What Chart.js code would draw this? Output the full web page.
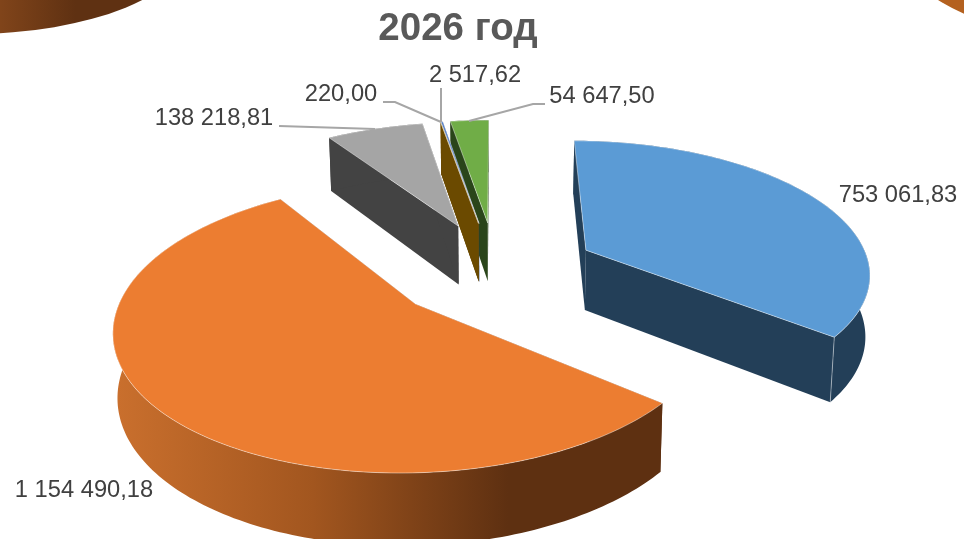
<!DOCTYPE html>
<html>
<head>
<meta charset="utf-8">
<script src="https://cdn.jsdelivr.net/npm/chart.js@4"></script>
<style>
  html, body { margin: 0; background: #fff; overflow: hidden; }
  #wrap { position: relative; width: 964px; height: 539px; overflow: hidden; }
  #pie { position: absolute; left: 0; top: 0; }
  /* edges of the neighbouring charts cut off by the screenshot */
  .nb { position: absolute; border-radius: 50%; }
  #nbLeft { left: -250px; top: -146px; width: 440px; height: 180px;
    background: linear-gradient(90deg, #80441a 57%, #5f3112 74%); }
  #nbRight { left: 900px; top: -153px; width: 500px; height: 200px; background: #b4611f; }
</style>
</head>
<body>
<div id="wrap">
  <div class="nb" id="nbLeft"></div>
  <div class="nb" id="nbRight"></div>
  <canvas id="pie" width="964" height="539"></canvas>
</div>
<script>
const values = [753061.83, 1154490.18, 138218.81, 220.00, 2517.62, 54647.50];
const explode = [408, 420, 432, 432, 432, 432];
const topColors = ['#5b9bd5', '#ec7d31', '#a5a5a5', '#ffc000', '#4472c4', '#70ad47'];
const wallColors = ['#233f58', '#5e3011', '#434343', '#6b4a00', '#264478', '#2a451a'];
const titleText = '2026 год';

// label text centres and leader lines, screen pixels
const labelPos = [[898, 195], [84, 490], [214, 118], [341, 94], [475, 75], [602, 96]];
const leaders = [null, null,
  [[279, 126], [375, 129]],
  [[383, 102], [395, 102], [441, 122]],
  [[441, 88], [441, 122]],
  [[545, 104], [533, 104], [469, 121]]];

// projection of the pie plane
const view = { cx: 496, cy: 270, squash: 0.462, persp: 0.000536, depth: 61, shrink: 0.012 };

function fmt(v) {
  const parts = v.toFixed(2).split('.');
  return parts[0].replace(/\B(?=(\d{3})+$)/g, '\u00a0') + ',' + parts[1];
}

function project(X, Y, z) {
  const w = 1 - view.persp * Y;
  const k = 1 - view.shrink * z;
  return [view.cx + X / w * k, view.cy + view.squash * Y / w * k + z * view.depth / w];
}

function trace(ctx, pts) {
  ctx.beginPath();
  pts.forEach((p, i) => i ? ctx.lineTo(p[0], p[1]) : ctx.moveTo(p[0], p[1]));
  ctx.closePath();
}

function drawSlice(ctx, arc, i) {
  const a0 = arc.startAngle, a1 = arc.endAngle, R = arc.outerRadius;
  const mid = (a0 + a1) / 2, off = arc.options.offset / 4;
  const ox = Math.cos(mid) * off, oy = Math.sin(mid) * off;
  const rim = [];
  const n = Math.max(2, Math.ceil((a1 - a0) / 0.02));
  for (let j = 0; j <= n; j++) {
    const a = a0 + (a1 - a0) * j / n;
    rim.push([ox + R * Math.cos(a), oy + R * Math.sin(a)]);
  }
  const at = (p, z) => project(p[0], p[1], z);
  const apex = [ox, oy];

  // cut walls
  ctx.fillStyle = wallColors[i];
  [rim[0], rim[n]].forEach(p => {
    trace(ctx, [at(apex, 0), at(p, 0), at(p, 1), at(apex, 1)]);
    ctx.fill();
  });
  // outer wall
  let wall = wallColors[i];
  if (i === 1) {
    wall = ctx.createLinearGradient(118, 0, 660, 0);
    wall.addColorStop(0, '#c96f2d');
    wall.addColorStop(0.36, '#a2561f');
    wall.addColorStop(0.72, '#5e3011');
    wall.addColorStop(1, '#5e3011');
  }
  ctx.fillStyle = wall;
  trace(ctx, rim.map(p => at(p, 0)).concat(rim.slice().reverse().map(p => at(p, 1))));
  ctx.fill();
  // top face
  trace(ctx, [at(apex, 0)].concat(rim.map(p => at(p, 0))));
  ctx.fillStyle = topColors[i];
  ctx.fill();
  ctx.strokeStyle = 'rgba(255,255,255,0.55)';
  ctx.lineWidth = 0.8;
  ctx.stroke();
  // light edge down the near corner of the blue slice
  if (i === 0) {
    const c = at(rim[n], 0), d = at(rim[n], 1);
    ctx.beginPath();
    ctx.moveTo(c[0], c[1]);
    ctx.lineTo(d[0], d[1]);
    ctx.stroke();
  }
}

const pie3d = {
  id: 'pie3d',
  beforeDatasetsDraw(chart) {
    const ctx = chart.ctx;
    const arcs = chart.getDatasetMeta(0).data;
    ctx.save();
    for (let i = arcs.length - 1; i >= 0; i--) drawSlice(ctx, arcs[i], i);
    ctx.restore();
    return false;
  },
  afterDraw(chart) {
    const ctx = chart.ctx;
    ctx.save();
    ctx.strokeStyle = '#a6a6a6';
    ctx.lineWidth = 2;
    leaders.forEach(l => {
      if (!l) return;
      ctx.beginPath();
      l.forEach((p, i) => i ? ctx.lineTo(p[0], p[1]) : ctx.moveTo(p[0], p[1]));
      ctx.stroke();
    });
    ctx.fillStyle = '#404040';
    ctx.font = '23.7px "Liberation Sans", Arial, sans-serif';
    ctx.textAlign = 'center';
    ctx.textBaseline = 'middle';
    values.forEach((v, i) => ctx.fillText(fmt(v), labelPos[i][0], labelPos[i][1]));
    ctx.restore();
  }
};

new Chart(document.getElementById('pie'), {
  type: 'pie',
  data: {
    labels: values.map(fmt),
    datasets: [{ data: values, backgroundColor: topColors, offset: explode, borderWidth: 0 }]
  },
  options: {
    responsive: false,
    animation: false,
    radius: 285,
    layout: { padding: { right: 48 } },
    plugins: {
      legend: { display: false },
      tooltip: { enabled: false },
      title: {
        display: true,
        text: titleText,
        color: '#595959',
        font: { family: '"Liberation Sans", Arial, sans-serif', size: 38.5, weight: 'bold' },
        padding: { top: 6, bottom: 10 }
      }
    }
  },
  plugins: [pie3d]
});
</script>
</body>
</html>
